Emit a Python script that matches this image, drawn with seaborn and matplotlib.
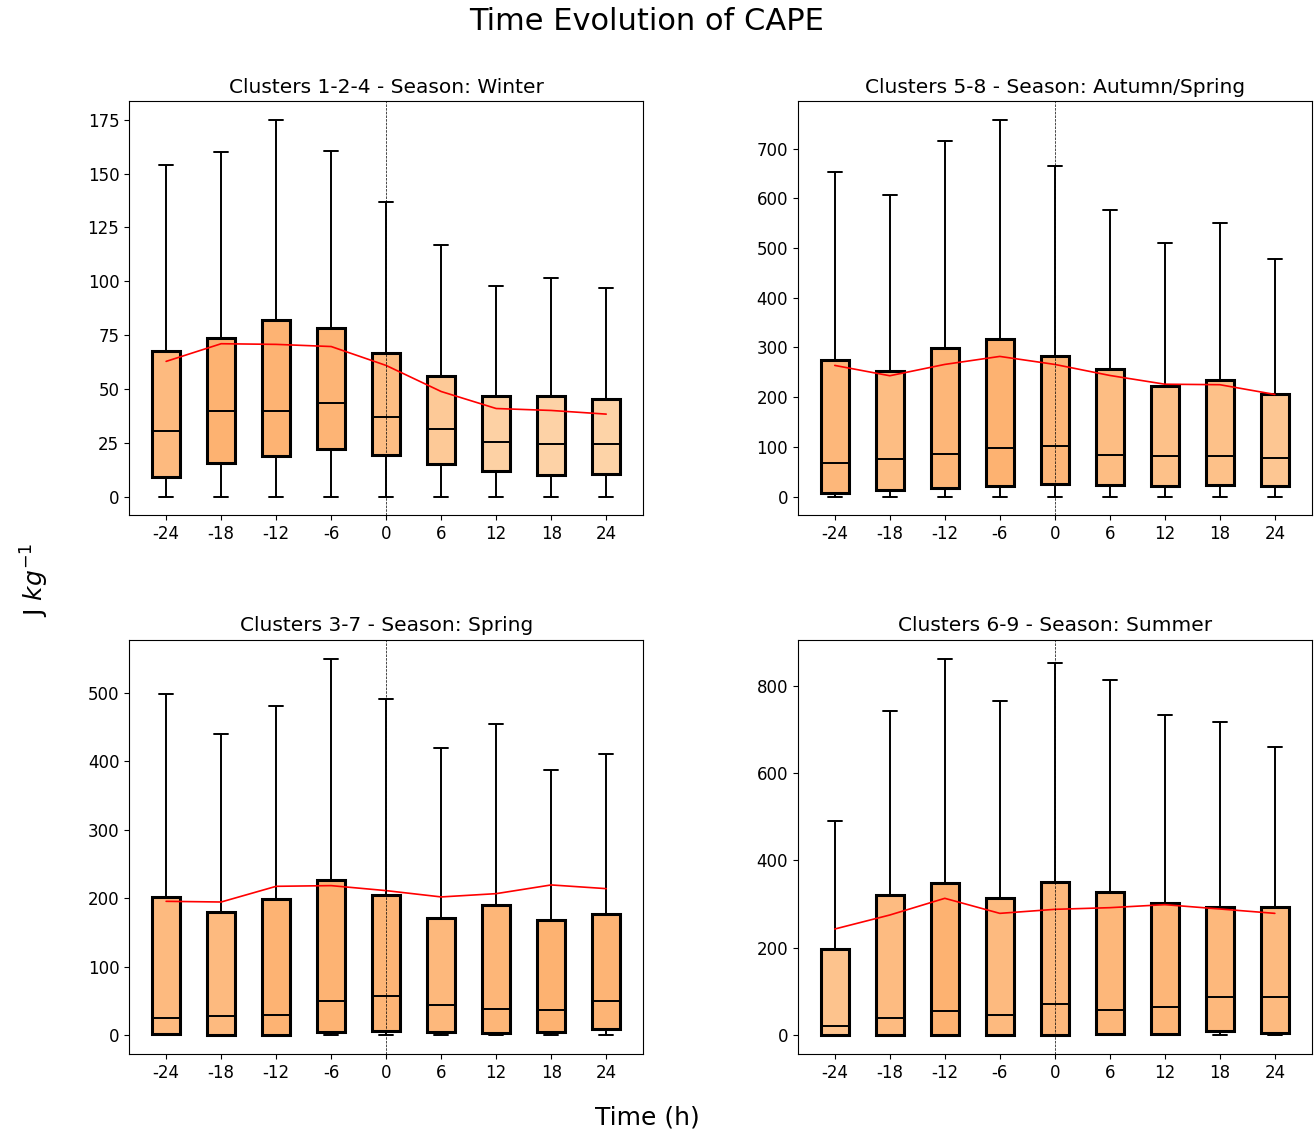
import numpy as np
import pandas as pd
import matplotlib
matplotlib.use("Agg")
import matplotlib.pyplot as plt
import seaborn as sns

# Lead/lag times relative to event (hours)
times = ["-24", "-18", "-12", "-6", "0", "6", "12", "18", "24"]

# Box statistics per panel: lower whisker, Q1, median, Q3, upper whisker, mean
winter_low = [0, 0, 0, 0, 0, 0, 0, 0, 0]
winter_q1 = [9.3, 15.7, 18.9, 22.3, 19.2, 15.2, 11.8, 9.9, 10.5]
winter_med = [30.4, 39.8, 39.8, 43.6, 37.1, 31.5, 25.3, 24.5, 24.5]
winter_q3 = [67.7, 73.6, 81.8, 78.3, 66.7, 56.0, 46.8, 46.8, 45.3]
winter_high = [154.2, 160.1, 175.0, 160.4, 136.9, 116.7, 98.0, 101.7, 97.0]
winter_mean = [62.8, 71.0, 70.7, 69.7, 60.9, 48.8, 40.9, 40.0, 38.3]

autspr_low = [0, 0, 0, 0, 0, 0, 0, 0, 0]
autspr_q1 = [8.0, 13.5, 18.0, 20.9, 25.6, 23.6, 21.5, 22.9, 21.5]
autspr_med = [67.2, 75.9, 85.3, 97.4, 102.0, 84.0, 82.5, 82.5, 77.9]
autspr_q3 = [275.2, 252.4, 298.0, 317.5, 283.3, 255.7, 222.2, 235.0, 206.2]
autspr_high = [653.7, 607.4, 715.5, 757.7, 664.4, 577.2, 510.2, 551.0, 478.0]
autspr_mean = [263.8, 243.0, 265.8, 281.9, 265.8, 243.6, 226.0, 225.0, 205.4]

spring_low = [0, 0, 0, 0, 0, 0, 0, 0, 0]
spring_q1 = [2.0, 1.0, 1.0, 4.9, 5.8, 4.9, 3.4, 4.9, 8.8]
spring_med = [24.4, 27.8, 30.2, 49.7, 57.5, 44.8, 38.0, 37.5, 49.7]
spring_q3 = [202.3, 180.3, 198.8, 226.6, 205.2, 170.6, 190.0, 168.1, 177.4]
spring_high = [498.0, 440.0, 480.0, 549.7, 491.2, 419.0, 453.7, 387.4, 410.8]
spring_mean = [195.4, 194.4, 217.3, 218.3, 211.0, 201.8, 206.6, 219.3, 213.9]

summer_low = [0, 0, 0, 0, 0, 0, 0, 0, 0]
summer_q1 = [0.0, 0.0, 0.0, 1.5, 1.5, 2.3, 3.0, 10.0, 5.3]
summer_med = [21.4, 40.5, 55.8, 47.4, 71.8, 58.0, 65.0, 86.3, 86.3]
summer_q3 = [197.9, 320.9, 347.6, 313.2, 350.7, 327.0, 302.5, 292.6, 294.2]
summer_high = [490.5, 741.0, 861.8, 764.7, 852.6, 812.1, 732.7, 715.9, 658.6]
summer_mean = [243.0, 275.0, 313.2, 278.8, 288.0, 291.8, 298.7, 288.8, 278.8]

panels = [
    ("Clusters 1-2-4 - Season: Winter",
     winter_low, winter_q1, winter_med, winter_q3, winter_high, winter_mean),
    ("Clusters 5-8 - Season: Autumn/Spring",
     autspr_low, autspr_q1, autspr_med, autspr_q3, autspr_high, autspr_mean),
    ("Clusters 3-7 - Season: Spring",
     spring_low, spring_q1, spring_med, spring_q3, spring_high, spring_mean),
    ("Clusters 6-9 - Season: Summer",
     summer_low, summer_q1, summer_med, summer_q3, summer_high, summer_mean),
]

sns.set_style("ticks")
plt.rcParams["font.family"] = ["DejaVu Sans"]
plt.rcParams["xtick.labelsize"] = 12
plt.rcParams["ytick.labelsize"] = 12
plt.rcParams["axes.edgecolor"] = "black"
plt.rcParams["xtick.color"] = "black"
plt.rcParams["ytick.color"] = "black"
plt.rcParams["text.color"] = "black"
plt.rcParams["axes.labelcolor"] = "black"

fig, axes = plt.subplots(2, 2, figsize=(13.15, 11.34), dpi=100)
fig.subplots_adjust(left=0.0981, right=0.9977, top=0.9109, bottom=0.0705,
                     wspace=0.30, hspace=0.30)

cmap = plt.get_cmap("Oranges")

for ax, (title, lo, q1, med, q3, hi, mean) in zip(axes.flat, panels):
    # five summary points per time step; whiskers span min..max
    rows = []
    for t, a, b, c, d, e in zip(times, lo, q1, med, q3, hi):
        for v in (a, b, c, d, e):
            rows.append({"time": t, "cape": v})
    df = pd.DataFrame(rows)

    mean_arr = np.asarray(mean)
    ratio = mean_arr / mean_arr.max()
    palette = {t: cmap(0.09 + 0.27 * r) for t, r in zip(times, ratio)}

    sns.boxplot(data=df, x="time", y="cape", hue="time", order=times,
                hue_order=times, palette=palette, legend=False,
                whis=(0, 100), width=0.5, linecolor="black", linewidth=1.5,
                saturation=1, showfliers=False, ax=ax,
                boxprops={"linewidth": 2.2, "edgecolor": "black"},
                whiskerprops={"linewidth": 1.4, "color": "black"},
                capprops={"linewidth": 1.4, "color": "black"},
                medianprops={"linewidth": 1.4, "color": "black"})

    sns.pointplot(x=times, y=mean, order=times, color="red", marker="",
                  linewidth=1.2, errorbar=None, ax=ax)

    ax.axvline(times.index("0"), color="black", linestyle="--",
               linewidth=0.5, zorder=10)
    ax.set_xlim(-0.675, len(times) - 1 + 0.675)
    ax.set_title(title, fontsize=14.5)
    ax.set_xlabel("")
    ax.set_ylabel("")
    for side in ("top", "right"):
        ax.spines[side].set_visible(True)

fig.suptitle("Time Evolution of CAPE", fontsize=22, x=0.492, y=0.994)
fig.supxlabel("Time (h)", fontsize=18, x=0.492, y=0.004)
fig.supylabel("J $kg^{-1}$", fontsize=18, x=0.014, y=0.4885)

fig.savefig("out.png", dpi=100)
